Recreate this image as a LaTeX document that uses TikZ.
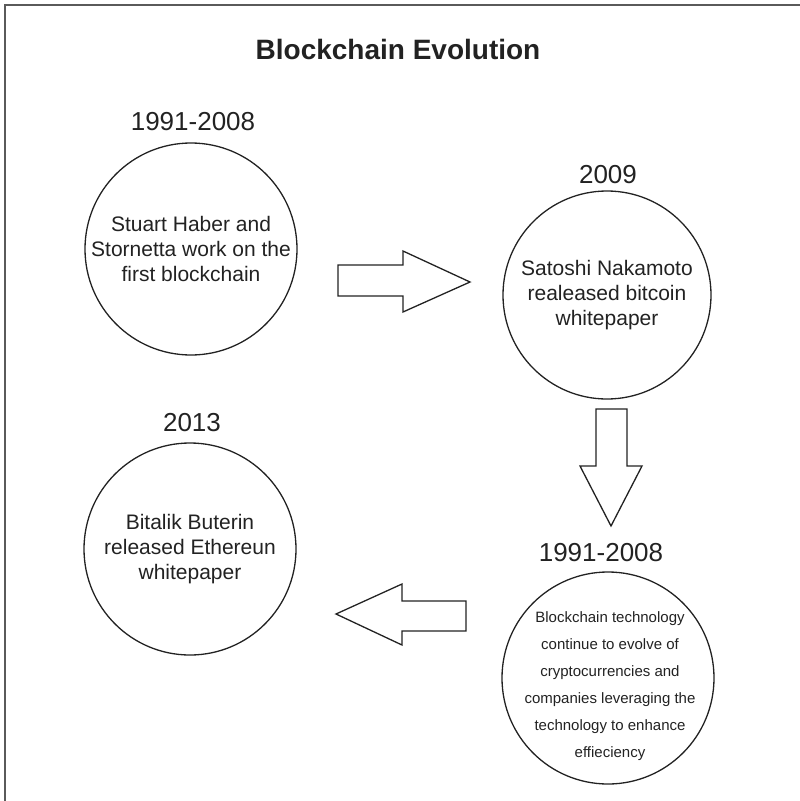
\documentclass[tikz,border=0pt]{standalone}
\usepackage{fontspec}
\setmainfont{Liberation Sans}
\definecolor{ink}{HTML}{222222}
\definecolor{framegray}{HTML}{5A5A5A}
\begin{document}
\begin{tikzpicture}[x=1pt,y=-1pt,
  frameline/.style={draw=framegray, line width=2.5pt},
  circ/.style={circle, draw=ink, line width=1.3pt, inner sep=0pt, align=center,
    text=ink, font=\fontsize{21}{25}\selectfont},
  smalltext/.style={align=center, text=ink, font=\fontsize{15}{27}\selectfont},
  year/.style={text=ink, font=\fontsize{26}{30}\selectfont},
  blockarrow/.style={draw=ink, line width=1.3pt, line join=miter, fill=white}]
\useasboundingbox (0,0) rectangle (800,801);
\draw[frameline] (800,5) -- (5,5) -- (5,801);

\node[text=ink, font=\bfseries\fontsize{28}{32}\selectfont] (title) at (398,49) {Blockchain Evolution};

\node[year] (y1) at (193,122) {1991-2008};
\node[circ, minimum size=212pt] (c1) at (191,249) {Stuart Haber and\\Stornetta work on the\\first blockchain};

\node[year] (y2) at (608,175) {2009};
\node[circ, minimum size=208pt] (c2) at (607,295) {Satoshi Nakamoto\\realeased bitcoin\\whitepaper};

\node[year] (y3) at (601,553) {1991-2008};
\node[circ, minimum size=212pt] (c4) at (608,678) {};
\node[smalltext] (t4) at (610,686) {Blockchain technology\\continue to evolve of\\cryptocurrencies and\\companies leveraging the\\technology to enhance\\effieciency};

\node[year] (y4) at (192,423) {2013};
\node[circ, minimum size=212pt] (c3) at (190,549) {Bitalik Buterin\\released Ethereun\\whitepaper};

% block arrows
\draw[blockarrow] (338,265) -- (403,265) -- (403,251) -- (470,282) -- (403,312) -- (403,296) -- (338,296) -- cycle;
\draw[blockarrow] (596,409) -- (627,409) -- (627,466) -- (642,466) -- (611,526) -- (580,466) -- (596,466) -- cycle;
\draw[blockarrow] (466,601) -- (402,601) -- (402,584) -- (336,614) -- (402,645) -- (402,631) -- (466,631) -- cycle;
\end{tikzpicture}
\end{document}
